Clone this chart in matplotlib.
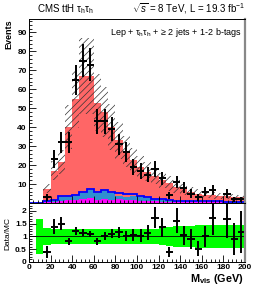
import numpy as np
import matplotlib
matplotlib.use("Agg")
import matplotlib.pyplot as plt

plt.rcParams['font.family'] = ['Liberation Sans', 'DejaVu Sans']
plt.rcParams['mathtext.fontset'] = 'custom'
plt.rcParams['mathtext.rm'] = 'Liberation Sans'
plt.rcParams['mathtext.it'] = 'Liberation Sans:italic'
plt.rcParams['mathtext.bf'] = 'Liberation Sans:bold'
plt.rcParams['hatch.linewidth'] = 0.5

# binning: 30 bins of 6.67 GeV from 0 to 200
edges = np.linspace(0, 200, 31)
centers = 0.5 * (edges[1:] + edges[:-1])

# observed events per bin (nan = no data point)
data = np.array([np.nan, np.nan, 3, 23, 32, 32, 65, 75, 73, 43,
                 43, 39, 31, 27, 19, 17, 15, 18, 13, 4,
                 11, 8, 5, 3, 6, 7, np.nan, 5, 2, 2])

# total expectation (top of the stack)
mc_total = np.array([0, 0.3, 7.4, 17, 21.7, 40, 54.7, 67, 67, 53,
                     48, 40, 33, 27, 22.5, 19, 16.5, 14, 12, 10.5,
                     8.5, 7.2, 6.0, 5.0, 4.4, 4.0, 3.7, 3.5, 3.2, 3.0])
# magenta component (bottom)
mc_magenta = np.array([0, 0, 0.4, 0.6, 1.2, 1.5, 1.8, 2.0, 2.4, 1.8,
                       2.2, 1.8, 2.0, 1.7, 1.5, 1.2, 1.0, 0.8, 0.7, 0.6,
                       0.5, 0.5, 0.4, 0.4, 0.3, 0.3, 0.3, 0.3, 0.2, 0.2])
# top of the blue filled component
mc_blue_top = np.array([0, 0, 1.0, 1.3, 3.0, 3.3, 3.8, 5.5, 6.6, 5.2,
                        6.2, 5.2, 3.8, 3.4, 3.8, 3.3, 2.6, 2.0, 1.7, 1.3,
                        1.1, 1.1, 0.9, 0.8, 0.7, 0.7, 0.6, 0.6, 0.5, 0.5])
# blue outline histogram
blue_line = np.array([0, 0, 1.2, 1.5, 3.6, 3.8, 4.2, 6.0, 7.2, 5.6,
                      6.6, 5.6, 5.2, 4.8, 4.6, 3.8, 3.0, 2.3, 2.0, 1.6,
                      1.3, 1.3, 1.1, 1.0, 0.9, 0.8, 0.8, 0.7, 0.7, 0.6])
# relative uncertainty on expectation
rel_unc = np.array([0, 0.70, 0.32, 0.30, 0.30, 0.29, 0.28, 0.30, 0.30, 0.28,
                    0.28, 0.30, 0.30, 0.30, 0.30, 0.30, 0.30, 0.30, 0.33, 0.38,
                    0.40, 0.42, 0.42, 0.45, 0.45, 0.45, 0.45, 0.45, 0.45, 0.45])

# data / MC ratio
ratio = np.array([np.nan, np.nan, 0.40, 1.38, 1.50, 0.80, 1.22, 1.15, 1.10, 0.80,
                  1.03, 1.10, 1.16, 1.00, 1.06, 1.03, 1.15, 1.73, 1.35, 0.40,
                  1.62, 1.05, 0.90, 0.52, 1.00, 1.71, np.nan, 1.69, 0.90, 1.18])

RED = '#ff6666'
STEEL = '#2f8fd0'
MAGENTA = '#ff00ff'
BLUE = '#0000ff'
GREEN = '#00ff00'


def style_axes(ax):
	ax.tick_params(which='both', direction='in', top=False, right=False,
	               labelsize=6, width=0.6, pad=1.5)
	ax.tick_params(which='major', length=5)
	ax.tick_params(which='minor', length=2.5)
	for lab in ax.get_xticklabels() + ax.get_yticklabels():
		lab.set_fontweight('bold')
	ax.spines['right'].set_color('#888888')
	ax.spines['right'].set_linewidth(1.6)
	for s in ['left', 'bottom', 'top']:
		ax.spines[s].set_linewidth(0.7)


def main():
	fig = plt.figure(figsize=(2.58, 2.90), dpi=100)
	ax = fig.add_axes([0.112, 0.300, 0.838, 0.634])
	rax = fig.add_axes([0.112, 0.097, 0.838, 0.203], sharex=ax)

	# stack
	ax.stairs(mc_total, edges, baseline=0, fill=True, color=RED, lw=0)
	ax.stairs(mc_blue_top, edges, baseline=0, fill=True, color=STEEL, lw=0)
	ax.stairs(mc_magenta, edges, baseline=0, fill=True, color=MAGENTA, lw=0)

	# uncertainty band
	ax.stairs(mc_total * (1 + rel_unc), edges, baseline=mc_total * (1 - rel_unc),
	          fill=True, facecolor='none', edgecolor='#333333', hatch='/////', lw=0)

	ax.stairs(blue_line, edges, baseline=None, color=BLUE, lw=1.3)

	# data
	ok = ~np.isnan(data)
	ax.errorbar(centers[ok], data[ok], yerr=np.sqrt(data[ok]), xerr=100 / 30,
	            fmt='none', ecolor='black', elinewidth=1.4, capsize=0)

	ax.set_xlim(0, 200)
	ax.set_ylim(0, 97)
	ax.set_yticks(np.arange(10, 91, 10))
	ax.set_yticks(np.arange(0, 97, 2), minor=True)
	ax.set_xticks(np.arange(0, 201, 20))
	ax.set_xticks(np.arange(0, 201, 4), minor=True)
	style_axes(ax)
	plt.setp(ax.get_xticklabels(), visible=False)

	ax.text(0.985, 0.965, r'Lep + τ$_{\rm h}$τ$_{\rm h}$ + ≥ 2 jets + 1-2 b-tags',
	        transform=ax.transAxes, ha='right', va='top', fontsize=6.5)
	fig.text(0.143, 0.945, r'CMS ttH τ$_{\rm h}$τ$_{\rm h}$', ha='left', va='bottom', fontsize=7)
	fig.text(0.950, 0.945, r'$\sqrt{s}$ = 8 TeV, L = 19.3 fb$^{-1}$', ha='right', va='bottom', fontsize=7)
	fig.text(0.018, 0.934, 'Events', rotation=90, ha='left', va='top',
	         fontsize=6.5, fontweight='bold')

	# ratio panel
	mc_ok = mc_total > 0
	rax.stairs(np.where(mc_ok, 1 + rel_unc, np.nan), edges,
	           baseline=np.where(mc_ok, 1 - rel_unc, np.nan), fill=True, color=GREEN, lw=0)
	rax.axhline(1, color='black', lw=0.6)
	rok = ~np.isnan(ratio)
	rax.errorbar(centers[rok], ratio[rok], yerr=ratio[rok] / np.sqrt(data[rok]),
	             xerr=100 / 30, fmt='none', ecolor='black', elinewidth=1.4, capsize=0)
	rax.set_ylim(0, 2.31)
	rax.set_yticks([0, 0.5, 1, 1.5, 2])
	rax.set_yticklabels(['0', '0.5', '1', '1.5', '2'])
	rax.set_yticks(np.arange(0, 2.31, 0.1), minor=True)
	style_axes(rax)
	rax.set_xlim(0, 200)
	fig.text(0.018, 0.195, 'Data/MC', rotation=90, ha='left', va='center', fontsize=6)
	fig.text(0.945, 0.028, r'$\mathbf{M_{vis}}$ (GeV)', ha='right', va='baseline',
	         fontsize=7.8, fontweight='bold')

	fig.savefig('out.png', dpi=100)


if __name__ == '__main__':
	main()
